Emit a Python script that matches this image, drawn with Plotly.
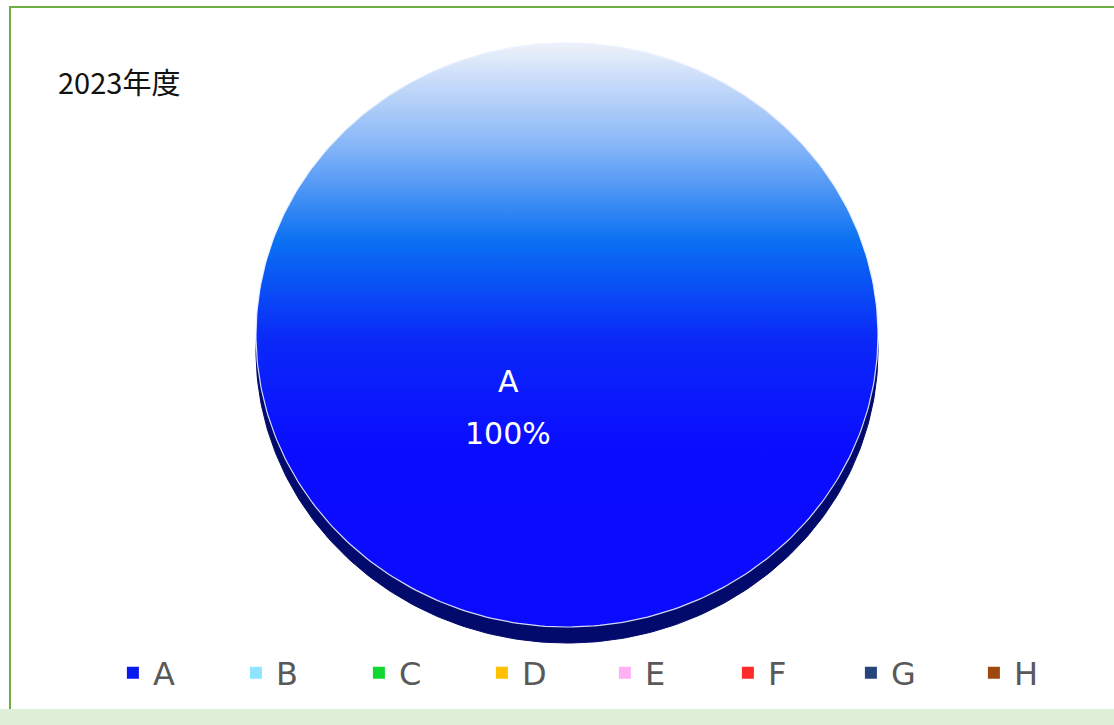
import numpy as np
import plotly.graph_objects as go

# data
categories = ["A", "B", "C", "D", "E", "F", "G", "H"]
shares = [100, 0, 0, 0, 0, 0, 0, 0]
legend_colors = ["#0a18f0", "#8fe4ff", "#10d830", "#ffc000",
                 "#ffb0f4", "#ff2a2a", "#26447c", "#9e480e"]
title_text = "2023年度"

W, H = 1114, 725
# pie geometry (pixel units, y measured upwards)
CX, CY = 567, H - 335
RX, RY = 311, 292
DEPTH = 16

blue_scale = [[0.0, "#0a0aff"], [0.30, "#0a0cff"], [0.49, "#0a28f8"],
              [0.66, "#0a70f2"], [0.83, "#8ab8f8"], [1.0, "#eef2fa"]]


def slice_path(start_frac, frac, dy=0):
    # pie starts at 12 o'clock and runs clockwise, like Excel
    a = np.linspace(start_frac, start_frac + frac, 361) * 2 * np.pi
    xs = list(CX + RX * np.sin(a))
    ys = list(CY - dy + RY * np.cos(a))
    if frac < 1:
        xs = [CX] + xs + [CX]
        ys = [CY - dy] + ys + [CY - dy]
    return xs, ys


fig = go.Figure()

total = sum(shares)
cum = 0
for cat, val in zip(categories, shares):
    frac = val / total
    if frac > 0:
        # side of the 3d disc
        xs, ys = slice_path(cum, frac, DEPTH)
        fig.add_trace(go.Scatter(x=xs, y=ys, mode="lines", fill="toself",
                                 fillcolor="#020a6c", line=dict(color="#020a6c", width=1),
                                 showlegend=False, hoverinfo="skip"))
    cum += frac

label_font = dict(family="DejaVu Sans", size=30, color="white")
cum = 0
for cat, val in zip(categories, shares):
    frac = val / total
    if frac > 0:
        xs, ys = slice_path(cum, frac)
        fig.add_trace(go.Scatter(
            x=xs, y=ys, mode="lines", fill="toself",
            fillgradient=dict(type="vertical", colorscale=blue_scale,
                              start=CY - RY, stop=CY + RY),
            line=dict(color="rgba(235,240,255,0.9)", width=1.2),
            showlegend=False, hoverinfo="skip"))
        mid = (cum + frac / 2) * 2 * np.pi
        if frac >= 1:
            lx, ly = CX - 59, CY - 72
        else:
            lx, ly = CX + 0.6 * RX * np.sin(mid), CY + 0.6 * RY * np.cos(mid)
        fig.add_annotation(x=lx, y=ly + 26, xref="x", yref="y", showarrow=False,
                           text=cat, font=label_font)
        fig.add_annotation(x=lx, y=ly - 26, xref="x", yref="y", showarrow=False,
                           text=f"{val / total:.0%}", font=label_font)
    cum += frac

for cat, col in zip(categories, legend_colors):
    fig.add_trace(go.Scatter(x=[None], y=[None], mode="markers", name=cat,
                             marker=dict(symbol="square", size=12, color=col)))

fig.add_annotation(x=56, y=H - 81, xref="x", yref="y", xanchor="left", yanchor="middle",
                   showarrow=False, text=title_text,
                   font=dict(family="Noto Sans CJK JP", size=29, color="#111111"))

# frame and bottom strip
fig.add_shape(type="rect", xref="paper", yref="paper", x0=0, x1=1, y0=0, y1=16 / H,
              fillcolor="#dfeed6", line_width=0, layer="below")
fig.add_shape(type="path", xref="x", yref="y",
              path=f"M 10 16 L 10 {H - 7} L {W + 5} {H - 7}",
              line=dict(color="#70ad47", width=2), layer="below")

fig.update_xaxes(range=[0, W], visible=False, fixedrange=True)
fig.update_yaxes(range=[0, H], visible=False, fixedrange=True)
fig.update_layout(
    width=W, height=H,
    margin=dict(l=0, r=0, t=0, b=0),
    paper_bgcolor="white", plot_bgcolor="white",
    showlegend=True,
    legend=dict(orientation="h", x=0.543, xanchor="center", y=(H - 673) / H, yanchor="middle",
                entrywidth=78, entrywidthmode="pixels", itemsizing="trace",
                font=dict(family="DejaVu Sans", size=32, color="#595959")),
)

fig.write_html("out.html", config={"displayModeBar": False},
               post_script="document.body.style.margin='0';")
